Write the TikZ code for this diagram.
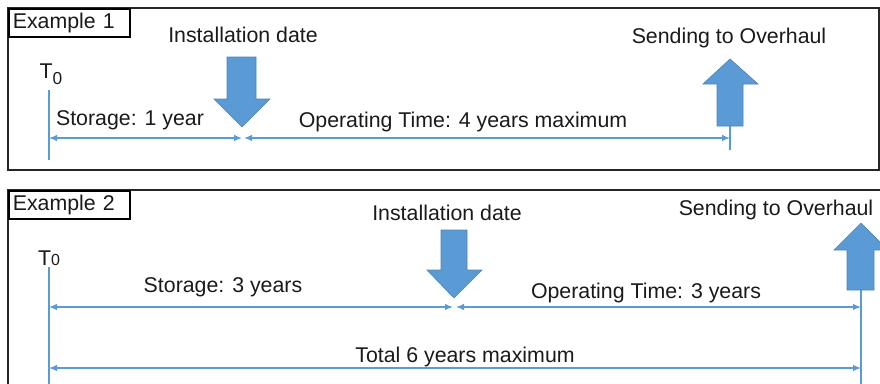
\documentclass[tikz,border=0pt]{standalone}
\usepackage{fontspec}
\setmainfont{Liberation Sans}
\usepackage{tikz}
\usetikzlibrary{arrows.meta}

\definecolor{lineblue}{HTML}{5B9BD5}
\definecolor{arrowblue}{HTML}{5B9BD5}
\definecolor{textgray}{HTML}{1A1A1A}

\begin{document}
\begin{tikzpicture}[x=0.75pt, y=-0.75pt,
        every node/.style={font=\fontsize{16}{19}\selectfont, text=textgray, inner sep=0pt},
        frame/.style={draw=black!85, line width=1.5pt},
        tagbox/.style={draw=black, line width=1.2pt, fill=white, anchor=north west, inner xsep=3pt,
                       text width=85pt, minimum height=21pt, align=left},
        label/.style={anchor=base},
        timeline/.style={draw=lineblue, line width=1pt},
        span/.style={timeline, {Latex[length=6pt,width=5pt]}-{Latex[length=6pt,width=5pt]}},
        blockarrow/.style={fill=arrowblue, draw=arrowblue!85!black, line width=0.5pt}]
        \useasboundingbox (0,0) rectangle (880,383);
        \clip (0,0) rectangle (880,383);

        % Example 1
        \draw[frame] (8,8) rectangle (879,170);
        \node[tagbox] (tag1) at (8,8) {Example 1};
        \node[label] (install1) at (243,42) {Installation date};
        \node[label] (overhaul1) at (729,43) {Sending to Overhaul};
        \node[label] (tzero1) at (51,78) {T\raisebox{-0.55ex}{\fontsize{13}{15}\selectfont 0}};
        \node[label] (storage1) at (130,125) {Storage: 1 year};
        \node[label] (operating1) at (463,127) {Operating Time: 4 years maximum};

        \coordinate (start1top) at (49,90);
        \coordinate (start1bot) at (49,160);
        \coordinate (start1) at (49,138);
        \coordinate (inst1a) at (242,138);
        \coordinate (inst1b) at (244,138);
        \coordinate (end1) at (730,138);
        \coordinate (end1top) at (730,126);
        \coordinate (end1bot) at (730,150);

        \draw[timeline] (start1top) -- (start1bot);
        \draw[timeline] (end1top) -- (end1bot);
        \draw[span] (start1) -- (inst1a);
        \draw[span] (inst1b) -- (end1);

        \draw[blockarrow] (227,57) -- (256,57) -- (256,99) -- (270,99) -- (242,127) -- (214,99) -- (227,99) -- cycle;
        \draw[blockarrow] (717,126) -- (743,126) -- (743,84) -- (758,84) -- (730,59) -- (703,84) -- (717,84) -- cycle;

        % Example 2
        \draw[frame] (8,190) rectangle (900,400);
        \node[tagbox] (tag2) at (8,190) {Example 2};
        \node[label] (install2) at (447,220) {Installation date};
        \node[label] (overhaul2) at (776,215) {Sending to Overhaul};
        \node[label] (tzero2) at (49,265) {T{\fontsize{12}{14}\selectfont 0}};
        \node[label] (storage2) at (223,292) {Storage: 3 years};
        \node[label] (operating2) at (646,298) {Operating Time: 3 years};
        \node[label] (total2) at (465,362) {Total 6 years maximum};

        \coordinate (start2top) at (49,267);
        \coordinate (start2bot) at (49,395);
        \coordinate (start2) at (49,307);
        \coordinate (inst2a) at (453,307);
        \coordinate (inst2b) at (456,307);
        \coordinate (end2) at (861,307);
        \coordinate (end2top) at (861,290);
        \coordinate (end2bot) at (861,395);
        \coordinate (total2a) at (49,368);
        \coordinate (total2b) at (861,368);

        \draw[timeline] (start2top) -- (start2bot);
        \draw[timeline] (end2top) -- (end2bot);
        \draw[span] (start2) -- (inst2a);
        \draw[span] (inst2b) -- (end2);
        \draw[span] (total2a) -- (total2b);

        \draw[blockarrow] (441,230) -- (467,230) -- (467,270) -- (482,270) -- (454,298) -- (427,270) -- (441,270) -- cycle;
        \draw[blockarrow] (847,290) -- (874,290) -- (874,250) -- (888,250) -- (861,223) -- (834,250) -- (847,250) -- cycle;
\end{tikzpicture}
\end{document}
